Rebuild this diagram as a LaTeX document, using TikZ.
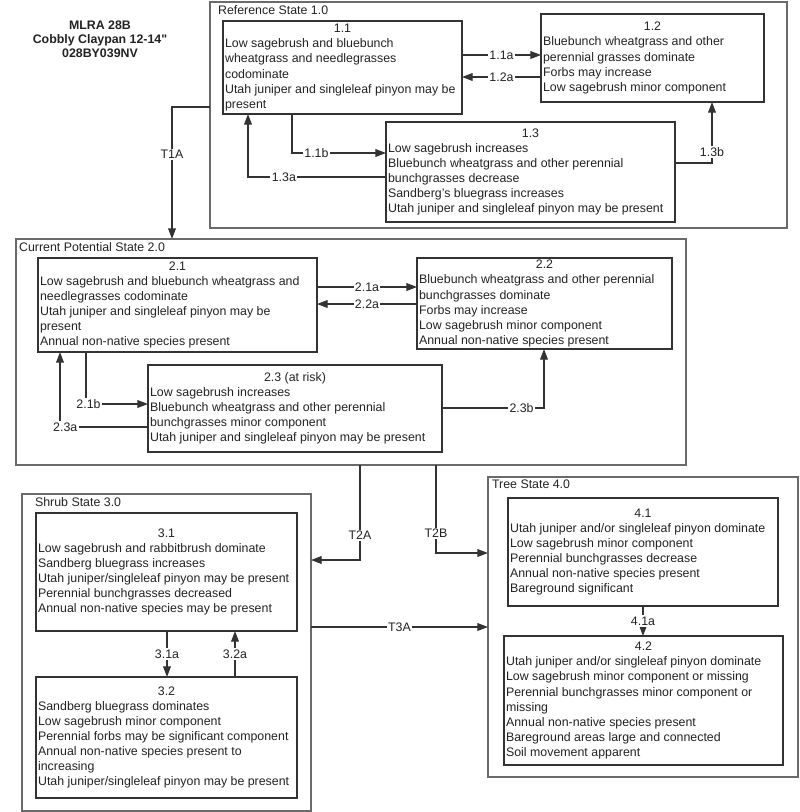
\documentclass[tikz,border=0pt]{standalone}
\usepackage{fontspec}
\setmainfont{Liberation Sans}
\usetikzlibrary{arrows.meta,calc}
\definecolor{STMlinie}{HTML}{333333}
\definecolor{STMrahmen}{HTML}{6A6A6A}
\definecolor{STMtext}{HTML}{222222}
\newlength{\pxlen}
\setlength{\pxlen}{0.025cm}
\newcommand{\stmfont}{\fontsize{8.8}{10.7}\selectfont}
\newcommand{\statebox}[4]{%
  \node[staterahmen, minimum width=#3*0.025cm, minimum height=#4*0.025cm]
  (#1) at (#2) {};}
\newcommand{\phasebox}[6]{%
  \node[phaserahmen, minimum width=#3*0.025cm, minimum height=#4*0.025cm]
  (#1) at (#2) {\makebox[\dimexpr #3\pxlen-3pt\relax]{#5}\\#6};}
\tikzset{
  staterahmen/.style={draw=STMrahmen, line width=0.9pt, anchor=north west,
    inner sep=0pt, outer sep=0pt},
  phaserahmen/.style={draw=STMlinie, line width=0.8pt, anchor=north west,
    align=left, inner xsep=1.5pt, inner ysep=0pt, outer sep=0pt,
    font=\stmfont, text=STMtext},
  statename/.style={anchor=north west, inner sep=2pt, font=\stmfont, text=STMtext},
  uebergang/.style={-{Triangle[length=7.5pt,width=5.5pt]}, draw=STMlinie, line width=0.75pt},
  pfeiltext/.style={fill=white, inner sep=1pt, font=\stmfont, text=STMtext},
  titel/.style={align=center, font=\fontsize{8.8}{10}\selectfont\bfseries, text=STMtext}
}

\begin{document}
\begin{tikzpicture}[x=0.025cm, y=-0.025cm]
\useasboundingbox (0,0) rectangle (800,812);

% ====================================================================
%
%         Titel
%
% ====================================================================

  \node[titel] (titel) at (100,39) {MLRA 28B\\Cobbly Claypan 12-14\textquotedbl\\028BY039NV};

% ====================================================================
%
%         Zustaende
%
% ====================================================================

  % Reference State
  \statebox{s1}{210,2}{577}{226}
  \node[statename] (s1name) at ($(s1.north west)+(5,0)$) {Reference State 1.0};
  \phasebox{s11}{223,21}{239}{93}{1.1}{Low sagebrush and bluebunch\\wheatgrass and needlegrasses\\codominate\\Utah juniper and singleleaf pinyon may be\\present}
  \phasebox{s12}{541,14}{223}{88}{1.2}{Bluebunch wheatgrass and other\\perennial grasses dominate\\Forbs may increase\\Low sagebrush minor component}
  \phasebox{s13}{386,122}{289}{100}{1.3}{Low sagebrush increases\\Bluebunch wheatgrass and other perennial\\bunchgrasses decrease\\Sandberg's bluegrass increases\\Utah juniper and singleleaf pinyon may be present}

  % Current Potential State
  \statebox{s2}{16,239}{670}{226}
  \node[statename] (s2name) at (s2.north west) {Current Potential State 2.0};
  \phasebox{s21}{38,258}{279}{94}{2.1}{Low sagebrush and bluebunch wheatgrass and\\needlegrasses codominate\\Utah juniper and singleleaf pinyon may be\\present\\Annual non-native species present}
  \phasebox{s22}{417,258}{255}{91}{2.2}{Bluebunch wheatgrass and other perennial\\bunchgrasses dominate\\Forbs may increase\\Low sagebrush minor component\\Annual non-native species present}
  \phasebox{s23}{148,365}{294}{87}{2.3 (at risk)}{Low sagebrush increases\\Bluebunch wheatgrass and other perennial\\bunchgrasses minor component\\Utah juniper and singleleaf pinyon may be present}

  % Shrub State
  \statebox{s3}{22,494}{289}{317}
  \node[statename] (s3name) at ($(s3.north west)+(10,0)$) {Shrub State 3.0};
  \phasebox{s31}{36,513}{261}{118}{3.1}{Low sagebrush and rabbitbrush dominate\\Sandberg bluegrass increases\\Utah juniper/singleleaf pinyon may be present\\Perennial bunchgrasses decreased\\Annual non-native species may be present}
  \phasebox{s32}{36,677}{261}{121}{3.2}{Sandberg bluegrass dominates\\Low sagebrush minor component\\Perennial forbs may be significant component\\Annual non-native species present to\\increasing\\Utah juniper/singleleaf pinyon may be present}

  % Tree State
  \statebox{s4}{488,477}{310}{300}
  \node[statename] (s4name) at ($(s4.north west)+(1,0)$) {Tree State 4.0};
  \phasebox{s41}{508,498}{270}{108}{4.1}{Utah juniper and/or singleleaf pinyon dominate\\Low sagebrush minor component\\Perennial bunchgrasses decrease\\Annual non-native species present\\Bareground significant}
  \phasebox{s42}{504,636}{279}{129}{4.2}{Utah juniper and/or singleleaf pinyon dominate\\Low sagebrush minor component or missing\\Perennial bunchgrasses minor component or\\missing\\Annual non-native species present\\Bareground areas large and connected\\Soil movement apparent}

% ====================================================================
%
%         Pfeile
%
% ====================================================================

  % innerhalb 1.0
  \draw[uebergang] ($(s11.north east)+(0,34)$) -- node[pfeiltext]{1.1a} ($(s12.north west)+(0,41)$);
  \draw[uebergang] ($(s12.north west)+(0,63)$) -- node[pfeiltext]{1.2a} ($(s11.north east)+(0,56)$);
  \draw[uebergang] ($(s11.south west)+(69,0)$) |- node[pfeiltext,pos=0.63]{1.1b} ($(s13.north west)+(0,31)$);
  \draw[uebergang] ($(s13.north west)+(0,55)$) -| node[pfeiltext,pos=0.37]{1.3a} ($(s11.south west)+(25,0)$);
  \draw[uebergang] ($(s13.north east)+(0,41)$) -| node[pfeiltext,pos=0.59]{1.3b} ($(s12.south west)+(171,0)$);

  % innerhalb 2.0
  \draw[uebergang] ($(s21.north east)+(0,29)$) -- node[pfeiltext]{2.1a} ($(s22.north west)+(0,29)$);
  \draw[uebergang] ($(s22.north west)+(0,46)$) -- node[pfeiltext]{2.2a} ($(s21.north east)+(0,46)$);
  \draw[uebergang] ($(s21.south west)+(48,0)$) |- node[pfeiltext,pos=0.52]{2.1b} ($(s23.north west)+(0,39)$);
  \draw[uebergang] ($(s23.north west)+(0,62)$) -| node[pfeiltext,pos=0.47]{2.3a} ($(s21.south west)+(22,0)$);
  \draw[uebergang] ($(s23.north east)+(0,43)$) -| node[pfeiltext,pos=0.39]{2.3b} ($(s22.south west)+(127,0)$);

  % innerhalb 3.0 und 4.0
  \draw[uebergang] ($(s31.south west)+(131,0)$) -- node[pfeiltext]{3.1a} ($(s32.north west)+(131,0)$);
  \draw[uebergang] ($(s32.north west)+(199,0)$) -- node[pfeiltext]{3.2a} ($(s31.south west)+(199,0)$);
  \draw[uebergang] ($(s41.south west)+(135,0)$) -- node[pfeiltext]{4.1a} ($(s42.north west)+(139,0)$);

  % Uebergaenge zwischen Zustaenden
  \draw[uebergang] ($(s1.north west)+(0,105)$) -| node[pfeiltext,pos=0.68]{T1A} ($(s2.north west)+(156,0)$);
  \draw[uebergang] ($(s2.south west)+(344,0)$) |- node[pfeiltext,pos=0.37]{T2A} ($(s3.north east)+(0,66)$);
  \draw[uebergang] ($(s2.south west)+(420,0)$) |- node[pfeiltext,pos=0.39]{T2B} ($(s4.north west)+(0,76)$);
  \draw[uebergang] ($(s3.north east)+(0,133)$) -- node[pfeiltext]{T3A} ($(s4.north west)+(0,150)$);

\end{tikzpicture}
\end{document}
